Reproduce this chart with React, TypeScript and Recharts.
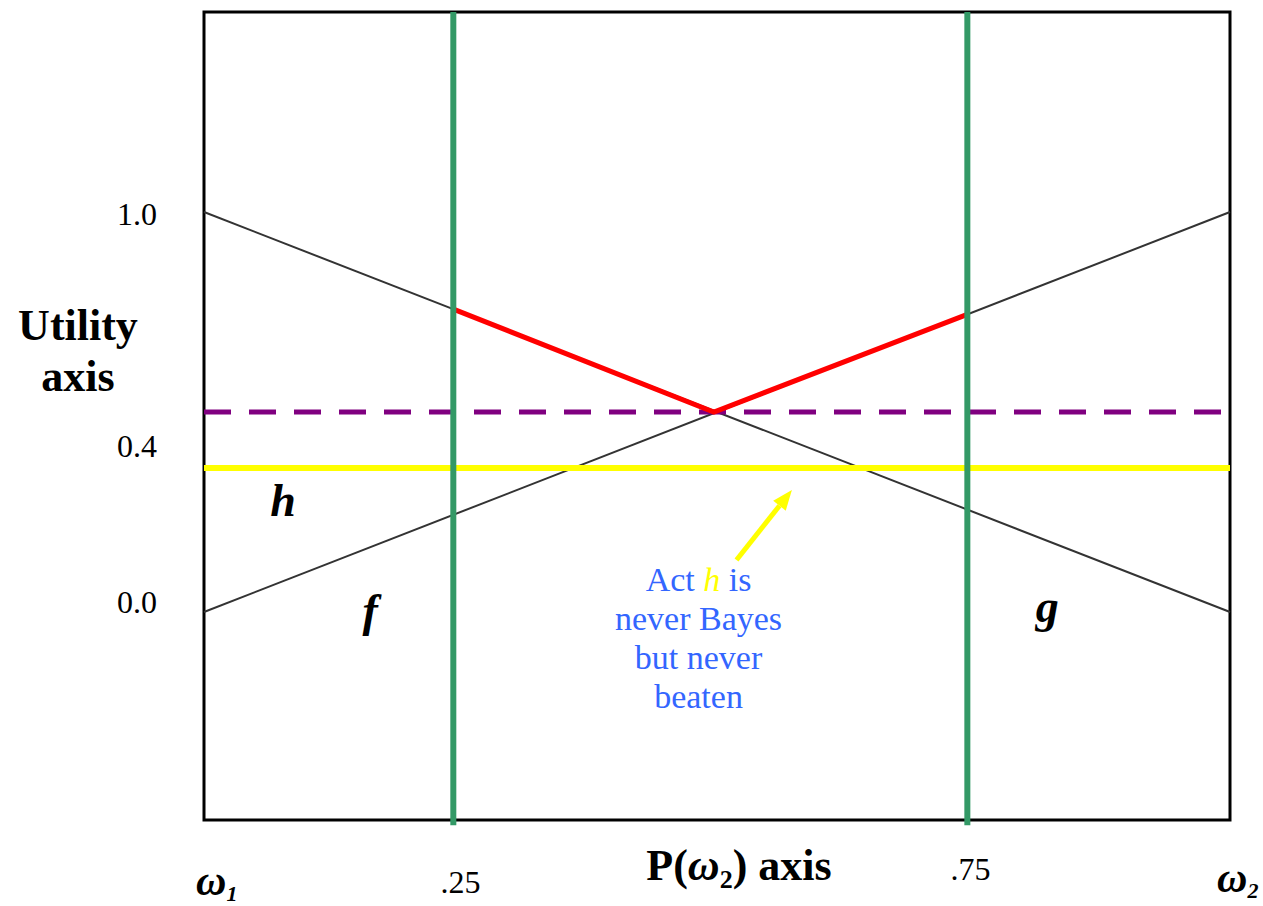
import { ComposedChart, Line, XAxis, YAxis, ReferenceLine, ReferenceArea, ReferenceDot } from 'recharts';

// probability of ω2 at the two ends of the axis
const pEnds = [0, 1];
const fUtility = [0, 1];
const gUtility = [1, 0];
const hUtility = [0.36, 0.36];
const mixUtility = [0.5, 0.5];

// upper envelope between the two decision boundaries
const bayesP = [0.243, 0.497, 0.744];
const bayesUtility = [0.757, 0.5, 0.744];
const boundaryP = [0.243, 0.744];

const yTicks = [0, 0.4, 1];
const yTickLabels = ['0.0', '0.4', '1.0'];
const xTicks = [0, 0.25, 0.75, 1];
const xTickLabels = ['ω|1', '.25', '.75', 'ω|2'];

const noteLines = ['Act h is', 'never Bayes', 'but never', 'beaten'];

const Y_DOMAIN: [number, number] = [-0.52, 1.5];
const SERIF = '"Liberation Serif", "Times New Roman", serif';

const toRows = (xs: number[], ys: number[]) => xs.map((p, i) => ({ p, u: ys[i] }));

const fData = toRows(pEnds, fUtility);
const gData = toRows(pEnds, gUtility);
const hData = toRows(pEnds, hUtility);
const mixData = toRows(pEnds, mixUtility);
const bayesData = toRows(bayesP, bayesUtility);

// small hand offsets so labels sit where the original put them
const yTickNudge: Record<number, number> = { 0: 1, 0.4: 5, 1: 13 };
const xTickNudge: Record<number, { dx: number; dy: number; anchor: string }> = {
  0: { dx: -8, dy: 73, anchor: 'start' },
  0.25: { dx: 0, dy: 71, anchor: 'middle' },
  0.75: { dx: -3, dy: 58, anchor: 'middle' },
  1: { dx: -13, dy: 70, anchor: 'start' },
};

function YTick(props: any) {
  const { x, y, payload } = props;
  const i = yTicks.indexOf(payload.value);
  return (
    <text x={x} y={y + (yTickNudge[payload.value] ?? 0)} textAnchor="end" fontFamily={SERIF} fontSize={32} fill="#000">
      {yTickLabels[i]}
    </text>
  );
}

function XTick(props: any) {
  const { x, y, payload } = props;
  const i = xTicks.indexOf(payload.value);
  const n = xTickNudge[payload.value];
  const label = xTickLabels[i];
  if (label.includes('|')) {
    const [main, sub] = label.split('|');
    return (
      <text x={x + n.dx} y={y + n.dy} textAnchor={n.anchor} fontFamily={SERIF} fontSize={42} fontWeight="bold" fontStyle="italic" fill="#000">
        {main}
        <tspan fontSize={22} dy={6}>{sub}</tspan>
      </text>
    );
  }
  return (
    <text x={x + n.dx} y={y + n.dy} textAnchor={n.anchor} fontFamily={SERIF} fontSize={32} fill="#000">
      {label}
    </text>
  );
}

function ArrowShape(props: any) {
  const { x1, y1, x2, y2 } = props;
  const a = Math.atan2(y2 - y1, x2 - x1);
  const len = 20;
  const half = 8;
  const bx = x2 - len * Math.cos(a);
  const by = y2 - len * Math.sin(a);
  const px = -Math.sin(a) * half;
  const py = Math.cos(a) * half;
  return (
    <g>
      <line x1={x1} y1={y1} x2={bx} y2={by} stroke="#ffff00" strokeWidth={5} />
      <polygon points={`${x2},${y2} ${bx + px},${by + py} ${bx - px},${by - py}`} fill="#ffff00" />
    </g>
  );
}

const letter = (ch: string) => (p: any) => (
  <text x={p.cx} y={p.cy} textAnchor="middle" fontFamily={SERIF} fontSize={46} fontWeight="bold" fontStyle="italic" fill="#000">
    {ch}
  </text>
);

function NoteShape(p: any) {
  return (
    <text x={p.cx} y={p.cy} textAnchor="middle" fontFamily={SERIF} fontSize={34} fill="#3366ff">
      {noteLines.map((line, i) => (
        <tspan key={i} x={p.cx} dy={i === 0 ? 0 : 39}>
          {line.startsWith('Act h') ? (
            <>
              {'Act '}
              <tspan fill="#ffff00" fontStyle="italic">h</tspan>
              {' is'}
            </>
          ) : (
            line
          )}
        </tspan>
      ))}
    </text>
  );
}

function UtilityTitle(props: any) {
  const { viewBox } = props;
  const cx = 78;
  return (
    <text x={cx} y={viewBox.y + 328} textAnchor="middle" fontFamily={SERIF} fontSize={44} fontWeight="bold" fill="#000">
      <tspan x={cx}>Utility</tspan>
      <tspan x={cx} dy={51}>axis</tspan>
    </text>
  );
}

function PTitle(props: any) {
  const { viewBox } = props;
  const cx = viewBox.x + viewBox.width / 2 + 22;
  return (
    <text x={cx} y={viewBox.y + 60} textAnchor="middle" fontFamily={SERIF} fontSize={44} fontWeight="bold" fill="#000">
      P(<tspan fontStyle="italic">ω</tspan>
      <tspan fontSize={26} dy={8}>2</tspan>
      <tspan dy={-8}>) axis</tspan>
    </text>
  );
}

export default function App() {
  return (
    <div style={{ position: 'absolute', left: 0, top: 0, background: '#fff' }}>
      <ComposedChart width={1263} height={906} margin={{ top: 12, right: 33, bottom: 0, left: 0 }}>
        <XAxis
          dataKey="p"
          type="number"
          domain={[0, 1]}
          ticks={xTicks}
          tick={<XTick />}
          tickLine={false}
          axisLine={false}
          tickSize={0}
          height={86}
          interval={0}
          label={{ content: <PTitle /> }}
        />
        <YAxis
          type="number"
          domain={Y_DOMAIN}
          ticks={yTicks}
          tick={<YTick />}
          tickLine={false}
          axisLine={false}
          tickSize={0}
          tickMargin={47}
          width={204}
          interval={0}
          label={{ content: <UtilityTitle /> }}
        />
        <ReferenceArea x1={0} x2={1} y1={Y_DOMAIN[0]} y2={Y_DOMAIN[1]} fill="none" fillOpacity={0} stroke="#000" strokeWidth={3} />
        <Line data={fData} dataKey="u" stroke="#333" strokeWidth={2} dot={false} isAnimationActive={false} />
        <Line data={gData} dataKey="u" stroke="#333" strokeWidth={2} dot={false} isAnimationActive={false} />
        <Line data={mixData} dataKey="u" stroke="#800080" strokeWidth={5} strokeDasharray="27 18" dot={false} isAnimationActive={false} />
        <Line data={hData} dataKey="u" stroke="#ffff00" strokeWidth={6} dot={false} isAnimationActive={false} />
        <Line data={bayesData} dataKey="u" stroke="#ff0000" strokeWidth={5} dot={false} isAnimationActive={false} />
        {boundaryP.map((p) => (
          <ReferenceLine
            key={p}
            segment={[{ x: p, y: -0.533 }, { x: p, y: Y_DOMAIN[1] }]}
            stroke="#339966"
            strokeWidth={6}
            ifOverflow="visible"
          />
        ))}
        <ReferenceLine segment={[{ x: 0.519, y: 0.13 }, { x: 0.573, y: 0.305 }]} shape={ArrowShape} ifOverflow="visible" />
        <ReferenceDot x={0.077} y={0.24} r={0} shape={letter('h')} ifOverflow="visible" />
        <ReferenceDot x={0.162} y={-0.035} r={0} shape={letter('f')} ifOverflow="visible" />
        <ReferenceDot x={0.822} y={-0.025} r={0} shape={letter('g')} ifOverflow="visible" />
        <ReferenceDot x={0.482} y={0.052} r={0} shape={NoteShape} ifOverflow="visible" />
      </ComposedChart>
    </div>
  );
}
